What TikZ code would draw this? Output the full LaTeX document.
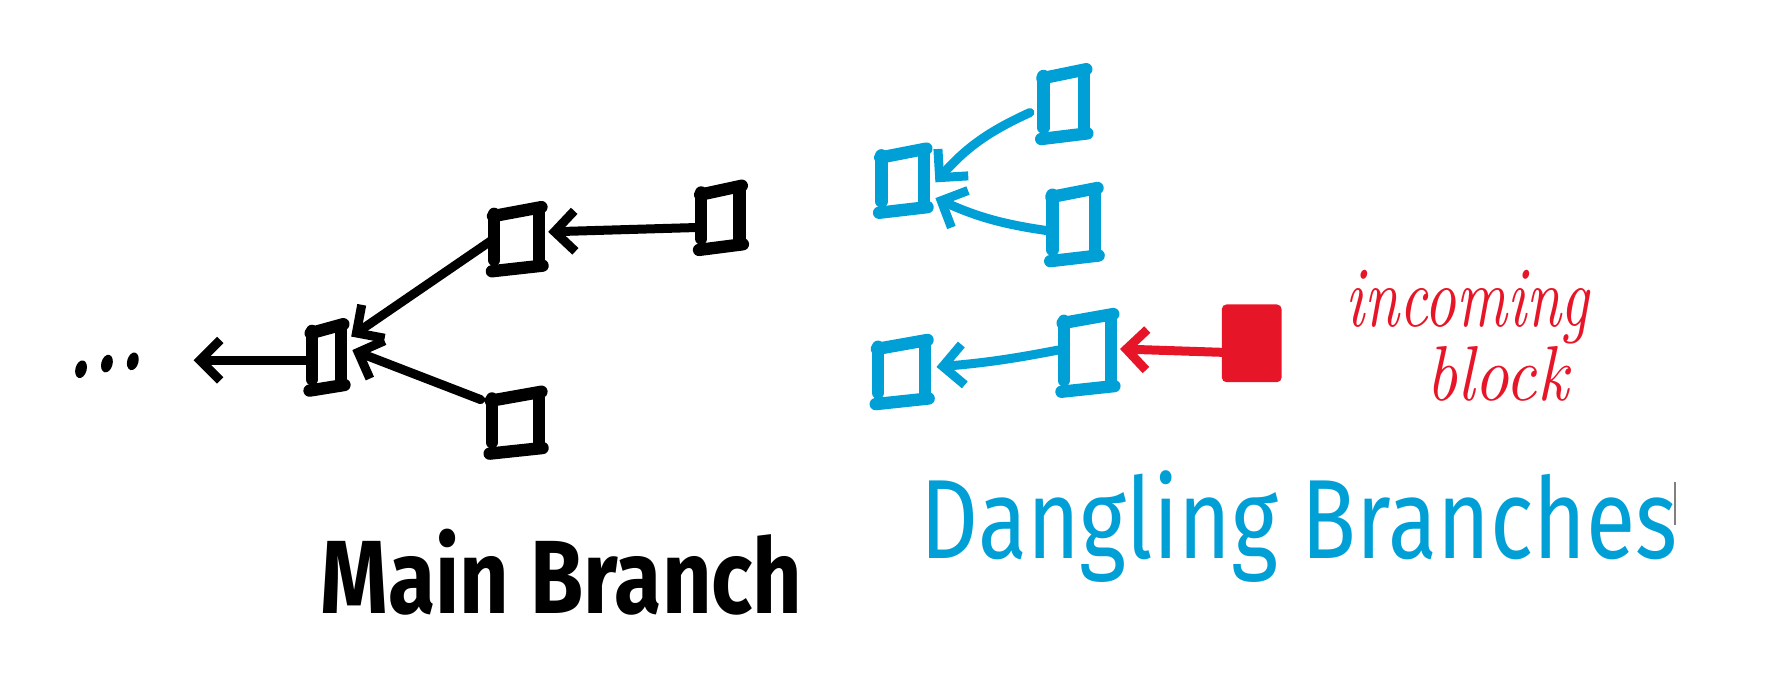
\documentclass[tikz,border=0pt]{standalone}
\usepackage{fontspec}
\usetikzlibrary{arrows.meta}
\newfontfamily\handfont{Fira Sans}
\definecolor{skblue}{RGB}{0,160,214}
\definecolor{skred}{RGB}{230,22,40}
\tikzset{
  stroke/.style={line width=11pt, line cap=round, line join=round},
  link/.style={line width=8pt, line cap=round, line join=round,
    -{Straight Barb[length=18pt,width=36pt]}},
  boxnode/.style={inner sep=0pt, outer sep=0pt, draw=none},
  lbl/.style={anchor=base west, inner sep=0pt, outer sep=0pt},
}
\newcommand\sketchbox[6]{%
  \node[boxnode, minimum width=#4pt, minimum height=#5pt] (#1) at (#2,#3) {};
  \draw[stroke,#6] ([yshift=-3pt]#1.north west) -- ([yshift=6pt]#1.south west);
  \draw[stroke,#6] ([xshift=-1pt,yshift=-5pt]#1.north west) -- ([xshift=2pt,yshift=3pt]#1.north east);
  \draw[stroke,#6] ([yshift=1pt]#1.north east) -- ([yshift=4pt]#1.south east);
  \draw[stroke,#6] ([xshift=-2pt,yshift=-4pt]#1.south west) -- ([xshift=3pt,yshift=1pt]#1.south east);
}
\begin{document}
\begin{tikzpicture}[x=1pt,y=-1pt]
\useasboundingbox (0,0) rectangle (1568,607);
% ---------- main branch ----------
\fill[rotate around={-15:(72,328)}] (72,328) ellipse (5 and 8);
\fill[rotate around={-15:(95,323)}] (95,323) ellipse (5 and 8);
\fill[rotate around={-15:(118,321)}] (118,321) ellipse (5 and 8);
\coordinate (dotsend) at (172,320);

\sketchbox{M}{290}{317}{26}{52}{black}
\sketchbox{A}{459}{212}{40}{50}{black}
\sketchbox{B}{640}{193}{34}{50}{black}
\sketchbox{C}{458}{375}{42}{48}{black}

\draw[link] ([yshift=-9pt]B.west) -- ([xshift=8pt,yshift=6pt]A.east);
\draw[link] (A.west) -- ([xshift=9pt,yshift=18pt]M.east);
\draw[link] ([xshift=-10pt,yshift=-4pt]C.north west) -- ([xshift=10pt,yshift=6pt]M.east);
\draw[link] ([yshift=-3pt]M.west) -- (dotsend);

% ---------- dangling branches ----------
\sketchbox{D1}{945}{92}{36}{55}{skblue}
\sketchbox{D2}{802}{160}{38}{50}{skblue}
\sketchbox{D3}{954}{199}{38}{58}{skblue}
\sketchbox{E1}{801}{330}{42}{50}{skblue}
\sketchbox{E2}{966}{313}{42}{62}{skblue}

\draw[link,skblue] ([xshift=-12pt,yshift=-8pt]D1.west) to[bend right=12] ([xshift=10pt,yshift=-2pt]D2.east);
\draw[link,skblue] ([xshift=-4pt,yshift=-6pt]D3.west) to[bend left=8] ([xshift=10pt,yshift=-16pt]D2.east);
\draw[link,skblue] ([xshift=-5pt,yshift=2pt]E2.west) to[bend left=3] ([xshift=10pt,yshift=4pt]E1.east);

\node[fill=skred, draw=skred, line width=5pt, rounded corners=2pt,
      minimum width=48pt, minimum height=64pt, inner sep=0pt] (R) at (1112,305) {};
\draw[link,skred] ([yshift=-8pt]R.west) -- ([xshift=8pt,yshift=3pt]E2.east);

% ---------- labels ----------
\node[lbl] (mainlbl) at (285,545) {\resizebox{428pt}{75pt}{\handfont\bfseries Main Branch}};
\node[lbl, text=skblue] (danglbl) at (818,496) {\resizebox{672pt}{78pt}{\handfont Dangling Branches}};
\node[lbl, text=skred] (inc) at (1195,290) {\vtop{\baselineskip=66pt\lineskiplimit=-200pt
  \hbox{\resizebox{217pt}{50pt}{\itshape incoming}}
  \hbox{\hspace*{72pt}\resizebox{126pt}{48pt}{\itshape block}}}};
\draw[gray, line width=1pt] (1488,428) -- (1488,466);
\end{tikzpicture}
\end{document}
